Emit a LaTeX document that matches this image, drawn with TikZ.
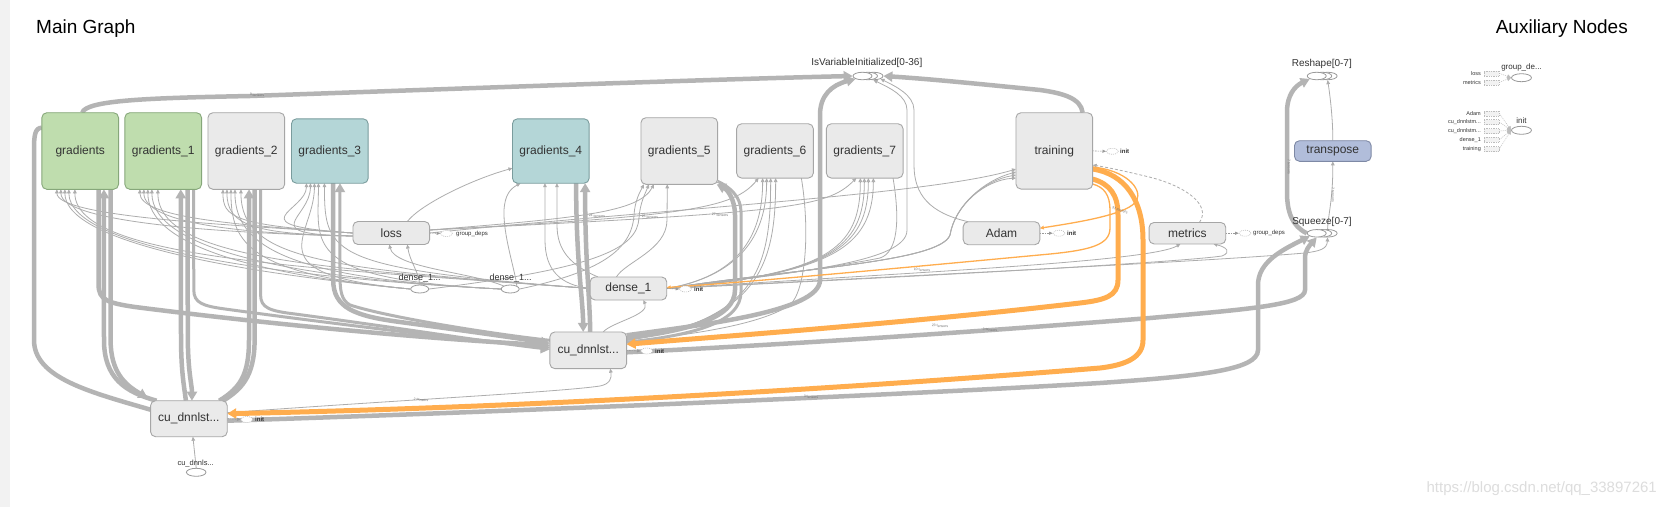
\documentclass[tikz,border=0pt]{standalone}
\usepackage{fontspec}
\setmainfont{Liberation Sans}
\usetikzlibrary{arrows.meta,shapes.geometric}
\definecolor{egray}{HTML}{B4B4B4}
\definecolor{tgray}{HTML}{ADADAD}
\definecolor{eorange}{HTML}{FFAD4E}
\definecolor{nfill}{HTML}{EAEAEA}
\definecolor{nline}{HTML}{A6A6A6}
\definecolor{gfill}{HTML}{BFDDAE}
\definecolor{gline}{HTML}{86A77A}
\definecolor{tfill}{HTML}{B4D6D7}
\definecolor{tline}{HTML}{7A9C9D}
\definecolor{bfill}{HTML}{B1BDDA}
\definecolor{bline}{HTML}{7E89A5}
\definecolor{txt}{HTML}{333333}
\definecolor{strip}{HTML}{F2F2F2}
\definecolor{ellc}{HTML}{9A9A9A}
\definecolor{stubc}{HTML}{BDBDBD}
\definecolor{lblc}{HTML}{707070}
\definecolor{wm}{HTML}{DDDDDD}
\pgfdeclarelayer{bg}
\pgfdeclarelayer{edges}
\pgfsetlayers{bg,edges,main}
\tikzset{
  box/.style={rectangle, rounded corners=5pt, draw=nline, fill=nfill, line width=0.9pt, text=txt,
    font=\fontsize{12}{14}\selectfont, minimum width=76.7pt, inner sep=0pt, outer sep=0pt},
  grnbox/.style={box, fill=gfill, draw=gline},
  tealbox/.style={box, fill=tfill, draw=tline},
  bluebox/.style={box, fill=bfill, draw=bline},
  elli/.style={ellipse, draw=ellc, fill=white, line width=0.8pt, minimum width=19pt, minimum height=7.5pt, inner sep=0pt},
  ellbl/.style={font=\fontsize{10}{11}\selectfont, text=txt, inner sep=0pt},
  stub/.style={ellipse, draw=stubc, fill=white, dash pattern=on 1pt off 1pt, line width=0.6pt, minimum width=12pt, minimum height=6pt, inner sep=0pt},
  stublbl/.style={font=\fontsize{6}{7}\selectfont\bfseries, text=txt, inner sep=0pt, anchor=west},
  gdlbl/.style={font=\fontsize{6}{7}\selectfont, text=txt, inner sep=0pt, anchor=west},
  stubarr/.style={draw=ellc, line width=0.6pt, dash pattern=on 1.5pt off 1pt, -{Triangle[length=3.5pt,width=3pt]}},
  thk/.style={draw=egray, line width=4.5pt},
  med/.style={draw=egray, line width=3pt},
  thn/.style={draw=tgray, line width=0.8pt},
  othk/.style={draw=eorange, line width=5pt},
  othn/.style={draw=eorange, line width=1.3pt},
  dsh/.style={draw=tgray, line width=0.8pt, dash pattern=on 3pt off 2pt},
  bigarr/.style={-{Triangle[length=9pt,width=10pt]}},
  smarr/.style={-{Triangle[length=4pt,width=3.6pt]}},
  elbl/.style={font=\fontsize{3.5}{4}\selectfont, text=lblc, inner sep=0pt},
  auxbox/.style={rectangle, draw=stubc, fill=nfill!60, dash pattern=on 1pt off 0.7pt, line width=0.5pt, minimum width=15pt, minimum height=5pt, inner sep=0pt},
  auxlbl/.style={font=\fontsize{5.5}{6}\selectfont, text=txt, inner sep=0pt, anchor=east},
  auxarr/.style={draw=stubc, line width=0.5pt, dash pattern=on 1pt off 1pt, -{Triangle[length=4pt,width=4pt]}},
}
\begin{document}
\begin{tikzpicture}[x=1pt,y=-1pt]
\begin{pgfonlayer}{bg}
\fill[white] (0,0) rectangle (1666,507);
\fill[strip] (0,0) rectangle (10,507);
\end{pgfonlayer}
\useasboundingbox (0,0) rectangle (1666,507);

% titles
\node[anchor=base west, font=\fontsize{19}{22}\selectfont, text=black, inner sep=0pt] (title) at (36,33.5) {Main Graph};
\node[anchor=base east, font=\fontsize{19}{22}\selectfont, text=black, inner sep=0pt] (auxtitle) at (1628,33.5) {Auxiliary Nodes};

% main nodes
\node[grnbox, minimum height=76.6pt] (g0) at (80.2,151) {gradients};
\node[grnbox, minimum height=76.6pt] (g1) at (163.2,151) {gradients\_1};
\node[box, minimum height=76.6pt] (g2) at (246.3,151) {gradients\_2};
\node[tealbox, minimum height=64.4pt] (g3) at (329.8,151) {gradients\_3};
\node[tealbox, minimum height=64.4pt] (g4) at (550.8,151) {gradients\_4};
\node[box, minimum height=66.6pt] (g5) at (679.3,151) {gradients\_5};
\node[box, minimum height=54.3pt] (g6) at (775,150.9) {gradients\_6};
\node[box, minimum height=54.3pt] (g7) at (864.7,150.9) {gradients\_7};
\node[box, minimum height=76.3pt] (training) at (1054.3,150.9) {training};
\node[box, minimum height=23pt] (loss) at (391.3,233) {loss};
\node[box, minimum height=23pt] (Adam) at (1001.5,233.2) {Adam};
\node[box, minimum height=21.5pt] (metrics) at (1187.4,233.2) {metrics};
\node[box, minimum height=23pt] (dense) at (628.4,288.5) {dense\_1};
\node[box, minimum height=36.7pt] (cum) at (588.2,350.3) {cu\_dnnlst...};
\node[box, minimum height=36pt] (cub) at (188.9,418.7) {cu\_dnnlst...};
\node[bluebox, minimum height=20.6pt] (tp) at (1332.8,151) {transpose};

% ellipse ops
\node[elli] (isv3) at (873.5,76) {};
\node[elli] (isv2) at (868,76) {};
\node[elli] (isv1) at (862.5,76) {};
\node[ellbl] (isvl) at (866.8,63.3) {IsVariableInitialized[0-36]};
\node[elli] (rs3) at (1327.6,76) {};
\node[elli] (rs2) at (1322.2,76) {};
\node[elli] (rs1) at (1316.7,76) {};
\node[ellbl] (rsl) at (1321.8,64) {Reshape[0-7]};
\node[elli] (sq3) at (1327.6,233.3) {};
\node[elli] (sq2) at (1322.2,233.3) {};
\node[elli] (sq1) at (1316.7,233.3) {};
\node[ellbl] (sql) at (1322,221.7) {Squeeze[0-7]};
\node[elli, minimum width=18pt, minimum height=8pt] (e1) at (419.7,289) {};
\node[ellbl, font=\fontsize{9}{10}\selectfont] (e1l) at (419.6,278.3) {dense\_1...};
\node[elli, minimum width=18pt, minimum height=8pt] (e2) at (510.2,289) {};
\node[ellbl, font=\fontsize{9}{10}\selectfont] (e2l) at (510.7,278.3) {dense\_1...};
\node[elli, minimum width=19.6pt, minimum height=8pt] (cdn) at (196.2,472.3) {};
\node[ellbl, font=\fontsize{7.5}{8}\selectfont] (cdnl) at (195.7,463.3) {cu\_dnnls...};

% stubs
\node[stub] (tinit) at (1112.3,151.3) {};
\node[stublbl] (tinitl) at (1120,151.3) {init};
\node[stub] (ainit) at (1059,233.2) {};
\node[stublbl] (ainitl) at (1067,233.2) {init};
\node[stub] (mgd) at (1245,233.2) {};
\node[gdlbl] (mgdl) at (1253,233.2) {group\_deps};
\node[stub] (lgd) at (446.5,233.5) {};
\node[gdlbl] (lgdl) at (456,233.5) {group\_deps};
\node[stub] (dinit) at (685.5,289) {};
\node[stublbl] (dinitl) at (694,289) {init};
\node[stub] (cinit) at (646.8,351) {};
\node[stublbl] (cinitl) at (655,351) {init};
\node[stub] (binit) at (246.8,419.5) {};
\node[stublbl] (binitl) at (255,419.5) {init};

% auxiliary nodes
\node[elli, minimum width=20pt, minimum height=8pt] (agd) at (1521.5,77.7) {};
\node[ellbl, font=\fontsize{8}{9}\selectfont] (agdl) at (1521.5,67.5) {group\_de...};
\node[auxbox] (ab1) at (1491.5,73.3) {};
\node[auxbox] (ab2) at (1491.5,82.3) {};
\node[auxlbl] (ab1l) at (1481,73.3) {loss};
\node[auxlbl] (ab2l) at (1481,82.3) {metrics};
\node[elli, minimum width=20pt, minimum height=8pt] (xinit) at (1521.5,130.3) {};
\node[ellbl, font=\fontsize{8}{9}\selectfont] (xinitl) at (1521.5,120.5) {init};
\node[auxbox] (xb1) at (1491.5,113.3) {};
\node[auxbox] (xb2) at (1491.5,122) {};
\node[auxbox] (xb3) at (1491.5,131) {};
\node[auxbox] (xb4) at (1491.5,139.7) {};
\node[auxbox] (xb5) at (1491.5,149) {};
\node[auxlbl] (xb1l) at (1481,113.3) {Adam};
\node[auxlbl] (xb2l) at (1481,122) {cu\_dnnlstm...};
\node[auxlbl] (xb3l) at (1481,131) {cu\_dnnlstm...};
\node[auxlbl] (xb4l) at (1481,139.7) {dense\_1};
\node[auxlbl] (xb5l) at (1481,149) {training};

% watermark
\node[anchor=east, font=\fontsize{15}{16}\selectfont, text=wm, inner sep=0pt] (wmark) at (1657,489) {https://blog.csdn.net/qq\_33897261};

\begin{pgfonlayer}{edges}
% ---------- thin fan lines to left gradient nodes
\foreach \g in {g0,g1,g2,g3}{
  \draw[thn,smarr] (loss.west) .. controls +(-120,-8) and +(0,28) .. ([xshift=15pt]\g.south west);
  \draw[thn,smarr] ([yshift=-3pt]loss.west) .. controls +(-100,-2) and +(0,36) .. ([xshift=19pt]\g.south west);
  \draw[thn,smarr] (e1.west) .. controls +(-160,-15) and +(0,55) .. ([xshift=23pt]\g.south west);
  \draw[thn,smarr] (e2.west) .. controls +(-200,-10) and +(0,62) .. ([xshift=27pt]\g.south west);
  \draw[thn,smarr] (dense.west) .. controls +(-260,-20) and +(0,72) .. ([xshift=33pt]\g.south west);
}
% thin lines to loss / g4 / g5
\draw[thn,smarr] (e1.north) .. controls (419,272) and (410,262) .. ([xshift=16pt]loss.south);
\draw[thn,smarr] (e2.north west) .. controls (470,272) and (395,268) .. ([xshift=-2pt]loss.south);
\draw[thn,smarr] (e2.north east) .. controls (515,270) and (503,235) .. (504,210) .. controls (505,195) and (510,189) .. ([xshift=8pt]g4.south west);
\draw[thn,smarr] ([xshift=16pt]loss.north) .. controls (420,205) and (470,180) .. ([yshift=15pt]g4.south west);
\draw[thn,smarr] (dense.west) .. controls (560,285) and (545,270) .. (545,240) -- ([xshift=32.5pt]g4.south west);
\draw[thn,smarr] ([xshift=8pt]dense.north west) .. controls (570,265) and (557,250) .. (557,225) -- ([xshift=44.5pt]g4.south west);
\draw[thn,smarr] ([xshift=-12pt]dense.north) .. controls (625,262) and (667,250) .. (667,220) -- ([xshift=-12pt]g5.south);
\draw[thn,smarr] (e2.east) .. controls (600,272) and (632,250) .. (634,215) .. controls (635,200) and (640,192) .. ([xshift=3pt]g5.south west);
\draw[thn,smarr] (e1.east) .. controls (600,268) and (637,248) .. (639,218) .. controls (640,203) and (645,194) .. ([xshift=8pt]g5.south west);
\draw[thn,smarr] ([yshift=3pt]loss.east) .. controls +(150,-12) and +(-15,28) .. ([xshift=13pt]g5.south west);
\draw[thn,smarr] ([yshift=3pt]loss.east) .. controls +(260,-14) and +(-25,30) .. ([xshift=22pt]g6.south west);
\draw[thn,smarr] ([yshift=3pt]loss.east) .. controls +(360,-18) and +(-30,30) .. ([xshift=30pt]g7.south west);
\draw[thn,smarr] (loss.east) .. controls (650,210) and (930,195) .. ([yshift=20pt]training.south west);
% g6 / g7
\foreach \s in {26,30} \draw[thn,smarr] (dense.east) .. controls +(70,-12) and +(0,60) .. ([xshift=\s pt]g6.south west);
\foreach \s in {34,39} \draw[thn,smarr] ([yshift=10pt]cum.east) .. controls +(130,-20) and +(0,90) .. ([xshift=\s pt]g6.south west);
\foreach \s in {34,38,42,47} \draw[thn,smarr] (dense.east) .. controls +(160,-15) and +(0,72) .. ([xshift=\s pt]g7.south west);
\draw[thn] ([xshift=-12pt]g6.south east) .. controls (810,230) and (806,290) .. (790,305) .. controls (760,325) and (690,335) .. ([yshift=9pt]cum.east);
\draw[thn] ([xshift=-10pt]g7.south east) .. controls (900,220) and (898,252) .. (880,258) .. controls (820,270) and (720,282) .. (dense.east);
% to training
\foreach \s in {11,14,17} \draw[thn,smarr] (dense.east) .. controls (800,268) and (940,262) .. (950,235) .. controls (955,205) and (985,180) .. ([yshift=\s pt]training.south west);
% IsVariableInitialized thin
\draw[thn,smarr] ([xshift=5pt]Adam.north west) .. controls (930,213) and (914,195) .. (914,165) -- (914,110) .. controls (914,95) and (895,86) .. (isv3.south east);
\draw[thn,smarr] (dense.east) .. controls (800,272) and (907,262) .. (907,230) -- (907,110) .. controls (907,96) and (890,88) .. (isv3.south);
% cum <-> dense, cub -> cum, cdn -> cub
\draw[thn,smarr] ([xshift=15pt]cum.north) .. controls (612,322) and (650,315) .. ([xshift=15pt]dense.south);
\draw[thn,smarr] ([yshift=6pt]cub.east) .. controls (400,400) and (560,392) .. (600,386) .. controls (610,384) and (612,378) .. ([xshift=22pt]cum.south);
\draw[thn,smarr] (cdn.north) -- ([xshift=4pt]cub.south);
% thin to squeeze / metrics
\draw[thn,smarr] (dense.east) .. controls (900,276) and (1200,262) .. (1305,253) .. controls (1320,251) and (1327,249) .. (sq3.south);
\draw[thn,smarr] (dense.east) .. controls (900,273) and (1150,262) .. ([xshift=-7pt]metrics.south);
\draw[thn,smarr] (dense.east) .. controls (950,275) and (1180,262) .. (1222,256) .. controls (1232,252) and (1226,247) .. ([xshift=26pt]metrics.south);
% dashed metrics -> training
\draw[dsh,smarr] ([xshift=12pt]metrics.north) .. controls (1212,205) and (1185,185) .. (1145,176) .. controls (1120,170) and (1105,167) .. ([yshift=24pt]training.south east);

% ---------- thick gray
\draw[thk,bigarr] ([xshift=2pt]g0.north) .. controls (86,100) and (150,98) .. (250,96) .. controls (450,89) and (720,79) .. (isv1.west);
\draw[thk] ([yshift=-15pt]g0.north west) .. controls (35,128) and (34,135) .. (34,150) -- (34,340) .. controls (34,378) and (90,392) .. ([yshift=9pt]cub.west);
\draw[thk,bigarr] ([xshift=-8pt]g0.south east) -- (110.6,340) .. controls (110.6,372) and (125,385) .. ([xshift=-3pt,yshift=3pt]cub.north west);
\draw[thk,bigarr] ([xshift=6pt]cub.north west) .. controls (125,392) and (104,378) .. (104,340) -- ([xshift=-14.6pt]g0.south east);
\draw[thk,bigarr] ([xshift=-20pt]g0.south east) -- (98.6,285) .. controls (98.6,300) and (108,303) .. (135,307) .. controls (300,328) and (450,340) .. ([yshift=5pt]cum.west);
\draw[thk,bigarr] ([xshift=-14pt]g1.south east) -- (187.8,335) .. controls (187.8,372) and (192,385) .. ([xshift=3pt]cub.north);
\draw[thk,bigarr] ([xshift=-3pt]cub.north) .. controls (184,385) and (181,372) .. (181,335) -- ([xshift=-20.8pt]g1.south east);
\draw[med,bigarr] ([xshift=-8pt]g1.south east) -- (193.8,290) .. controls (193.8,303) and (203,306) .. (225,309) .. controls (350,326) and (470,340) .. ([yshift=3pt]cum.west);
\draw[thk,bigarr] ([xshift=-8pt]cub.north east) .. controls (240,388) and (249,375) .. (249,340) -- ([xshift=-35.6pt]g2.south east);
\draw[thk] ([xshift=-30pt]g2.south east) -- (254.6,340) .. controls (254.6,378) and (240,390) .. ([xshift=-4pt]cub.north east);
\draw[med,bigarr] ([xshift=-24pt]g2.south east) -- (260.6,295) .. controls (260.6,308) and (270,311) .. (295,314) .. controls (400,328) and (480,341) .. ([yshift=1pt]cum.west);
\draw[thk,bigarr] ([xshift=-35pt]g3.south east) -- (333.2,280) .. controls (333.2,308) and (355,316) .. (400,322) .. controls (460,330) and (510,337) .. ([yshift=7pt]cum.west);
\draw[med,bigarr] ([yshift=10pt]cum.west) .. controls (500,335) and (390,318) .. (350,305) .. controls (341,300) and (340,290) .. (340,275) -- ([xshift=-28.2pt]g3.south east);
\draw[thk,bigarr] ([xshift=-13pt]g4.south east) .. controls (576,260) and (583,300) .. ([xshift=-5pt]cum.north);
\draw[thk,bigarr] ([xshift=2pt]cum.north) .. controls (590,300) and (585,260) .. ([xshift=-4pt]g4.south east);
\draw[thk,bigarr] ([yshift=12pt]cum.east) .. controls (690,330) and (735,318) .. (735,290) -- (735,215) .. controls (735,200) and (728,190) .. ([xshift=-1pt]g5.south east);
\draw[med] ([yshift=8pt]cum.east) .. controls (695,335) and (741,322) .. (741,292) -- (741,212) .. controls (741,198) and (732,188) .. ([yshift=3pt]g5.south east);
\draw[thk,bigarr] ([yshift=15pt]cum.east) .. controls (700,325) and (820,312) .. (820,280) -- (820,115) .. controls (820,95) and (832,85) .. (isv1.south west);
\draw[thk,bigarr] ([xshift=-10pt]training.north east) .. controls (1081,98) and (1062,93) .. (1040,90) .. controls (980,84) and (930,79) .. (isv3.east);
% squeeze side
\draw[thk,bigarr] ([yshift=-2pt]cub.east) .. controls (500,412) and (900,395) .. (1100,383) .. controls (1200,376) and (1258,370) .. (1258,350) -- (1258,285) .. controls (1258,262) and (1282,250) .. (sq1.south west);
\draw[thk,bigarr] ([yshift=-2pt]cum.east) .. controls (800,344) and (1000,330) .. (1150,318) .. controls (1250,309) and (1305,305) .. (1305,290) -- (1305,258) .. controls (1305,250) and (1310,245) .. (sq1.south);
\draw[thk,bigarr] (sq1.west) .. controls (1292,226) and (1287,212) .. (1287,192) -- (1287,112) .. controls (1287,95) and (1295,86) .. (rs1.south west);
\draw[thn,smarr] (sq3.north) .. controls (1328,215) and (1333,200) .. (tp.south);
\draw[thn,smarr] (tp.north) .. controls (1333,120) and (1330,95) .. (rs3.south);

% ---------- orange
\draw[othk,bigarr] ([yshift=10pt]training.south east) .. controls (1110,184) and (1118,195) .. (1118,215) -- (1118,280) .. controls (1118,296) and (1105,300) .. (1080,303) .. controls (900,324) and (700,338) .. ([yshift=6pt]cum.east);
\draw[othk,bigarr] ([yshift=20pt]training.south east) .. controls (1125,174) and (1143,200) .. (1143,240) -- (1143,340) .. controls (1143,358) and (1125,365) .. (1100,368) .. controls (800,392) and (500,408) .. ([yshift=5pt]cub.east);
\draw[othn,smarr] ([yshift=5pt]training.south east) .. controls (1104,187) and (1110,195) .. (1110,210) -- (1110,228) .. controls (1110,245) and (1090,250) .. (1050,254) .. controls (900,268) and (750,282) .. ([yshift=1pt]dense.east);
\draw[othn,smarr] ([yshift=22pt]training.south east) .. controls (1125,170) and (1142,188) .. (1137,200) .. controls (1130,214) and (1080,222) .. ([yshift=5pt]Adam.east);

% ---------- stubs
\draw[stubarr] (training.east) -- (tinit.west);
\draw[stubarr] (Adam.east) -- (ainit.west);
\draw[stubarr] (metrics.east) -- (mgd.west);
\draw[stubarr] (loss.east) -- (lgd.west);
\draw[stubarr] (dense.east) -- (dinit.west);
\draw[stubarr] (cum.east) -- (cinit.west);
\draw[stubarr] (cub.east) -- (binit.west);
% aux
\draw[auxarr] (ab1.east) -- (agd.west);
\draw[auxarr] (ab2.east) -- (agd.west);
\foreach \b in {xb1,xb2,xb3,xb4,xb5} \draw[auxarr] (\b.east) -- (xinit.west);

% ---------- edge labels
\node[elbl, rotate=-2] (l1) at (257,95) {3 tensors};
\node[elbl, rotate=-4] (l2) at (940,326) {23 tensors};
\node[elbl, rotate=-4] (l3) at (990,330) {3 tensors};
\node[elbl, rotate=-3] (l4) at (811,397) {3 tensors};
\node[elbl, rotate=-4] (l5) at (922,270) {10 tensors};
\node[elbl, rotate=-20] (l6) at (1120,210) {37 tensors};
\node[elbl, rotate=-90] (l7) at (1289,167) {7 tensors};
\node[elbl, rotate=-90] (l8) at (1333,195) {7 tensors};
\node[elbl, rotate=-2] (l9) at (597,216) {24 tensors};
\node[elbl, rotate=-2] (l10) at (650,217) {25 tensors};
\node[elbl, rotate=-2] (l11) at (720,215) {27 tensors};
\node[elbl, rotate=-4] (l12) at (421,400) {2 tensors};
\end{pgfonlayer}
\end{tikzpicture}
\end{document}
